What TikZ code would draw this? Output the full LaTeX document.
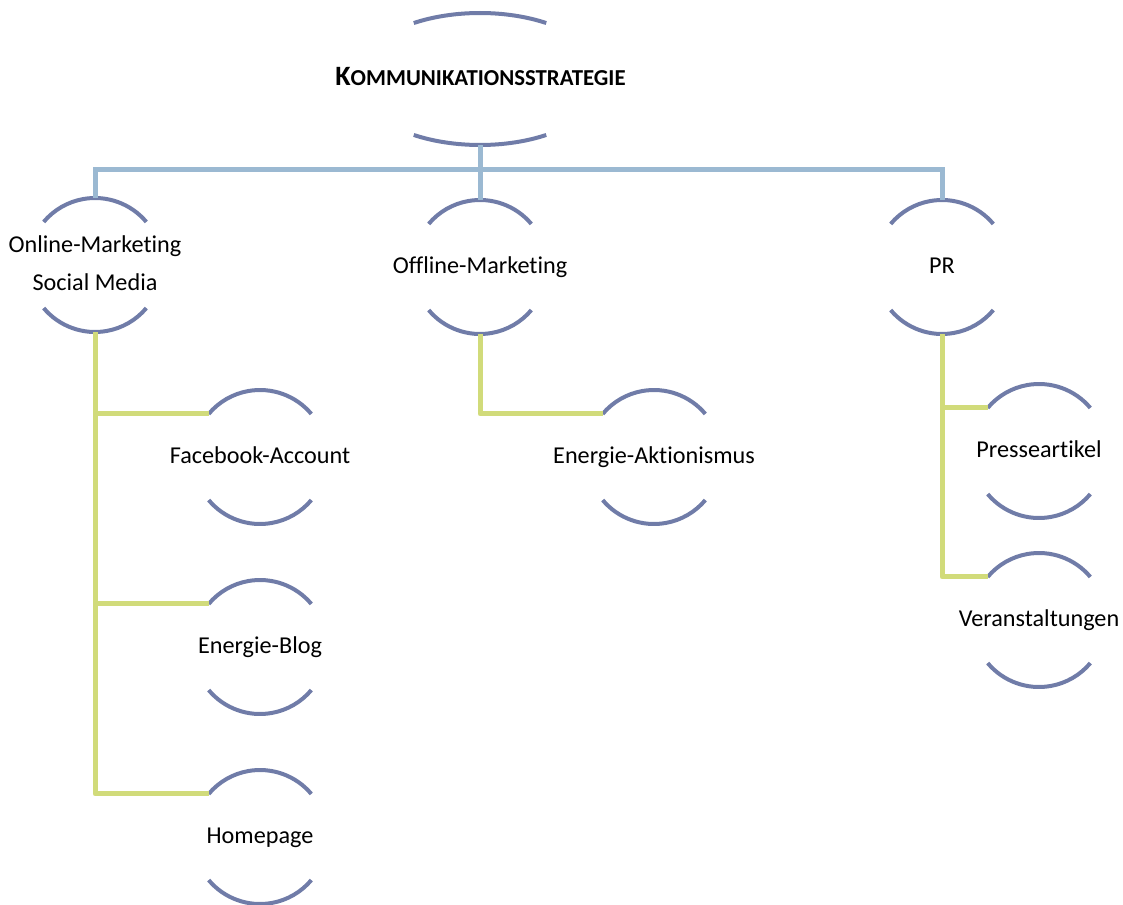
\documentclass[tikz,border=0pt]{standalone}
\usepackage{fontspec}
\setmainfont{Carlito}[Ligatures={NoCommon}]
\usetikzlibrary{calc}
\definecolor{arcc}{RGB}{112,124,168}
\definecolor{busc}{RGB}{155,185,210}
\definecolor{subc}{RGB}{209,219,122}
\tikzset{
  arcline/.style={draw=arcc,line width=4pt},
  busline/.style={draw=busc,line width=5pt},
  subline/.style={draw=subc,line width=5pt,line join=round},
  lbl/.style={font=\fontsize{24.2}{37.5}\selectfont,anchor=base,align=center,inner sep=0pt}
}
% name, x, y, baseline offset of last line, text
\newcommand\Unit[5]{%
  \coordinate (#1) at (#2,-#3);
  \draw[arcline] ($(#1)+(40:67)$) arc[start angle=40,end angle=140,radius=67] coordinate (#1-l);
  \draw[arcline] ($(#1)+(220:67)$) arc[start angle=220,end angle=320,radius=67];
  \coordinate (#1-t) at ($(#1)+(0,67)$);
  \coordinate (#1-b) at ($(#1)+(0,-67)$);
  \node[lbl] (#1-txt) at ($(#1)+(0,-#4)$) {#5};
}
\begin{document}
\begin{tikzpicture}[x=1pt,y=1pt]
\useasboundingbox (0,0) rectangle (1123,-904);
% top node
\coordinate (top) at (480,-79);
\draw[arcline] ($(top)+({125*cos(58)},{66*sin(58)})$) arc[start angle=58,end angle=122,x radius=125,y radius=66];
\draw[arcline] ($(top)+({125*cos(238)},{66*sin(238)})$) arc[start angle=238,end angle=302,x radius=125,y radius=66];
\coordinate (top-b) at ($(top)+(0,-66)$);
\node[font=\bfseries,anchor=base,inner sep=0pt] (title) at (480.5,-86)
  {{\fontsize{28}{28}\selectfont K}\fontsize{22.8}{28}\selectfont OMMUNIKATIONSSTRATEGIE};
% level 1
\Unit{on}{95}{265}{25}{Online-Marketing\\Social Media}
\Unit{off}{480}{267}{6.5}{Offline-Marketing}
\Unit{pr}{942}{267}{6.5}{PR}
% level 2
\Unit{fb}{260}{457}{6.5}{Facebook-Account}
\Unit{blog}{260}{647}{6.5}{Energie-Blog}
\Unit{hp}{260}{837}{6.5}{Homepage}
\Unit{akt}{654}{457}{6.5}{Energie-Aktionismus}
\Unit{pa}{1039}{451}{6.5}{Presseartikel}
\Unit{va}{1039}{620}{6.5}{Veranstaltungen}
% bus
\coordinate (bus) at (480,-170);
\draw[busline] (top-b) -- (off-t);
\draw[busline] (bus) -| (on-t);
\draw[busline] (bus) -| (pr-t);
% sub connectors
\draw[subline] (on-b) |- (hp-l);
\draw[subline] (on-b) |- (fb-l);
\draw[subline] (on-b) |- (blog-l);
\draw[subline] (off-b) |- (akt-l);
\draw[subline] (pr-b) |- (va-l);
\draw[subline] (pr-b) |- (pa-l);
\end{tikzpicture}
\end{document}
